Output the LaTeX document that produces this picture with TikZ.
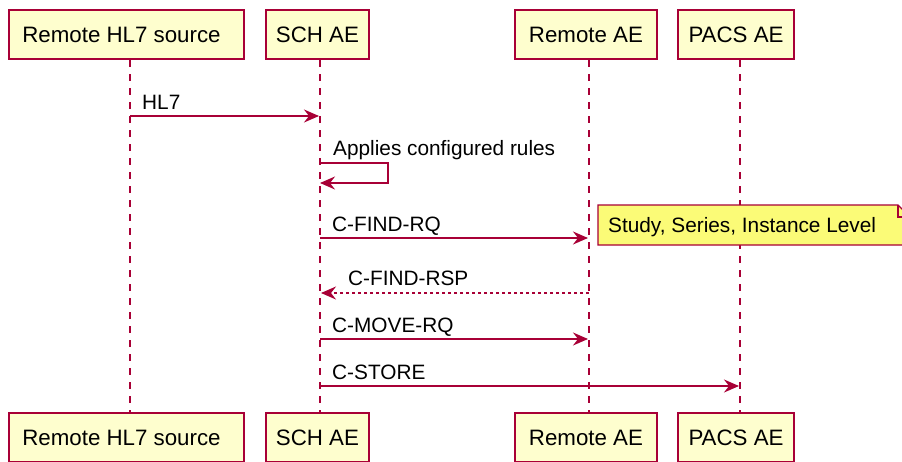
\documentclass[tikz,border=0pt]{standalone}
\usepackage{fontspec}
\setmainfont{Liberation Sans}
\usetikzlibrary{arrows.meta}
\definecolor{pborder}{RGB}{168,0,54}
\definecolor{pfill}{RGB}{254,254,206}
\definecolor{nfill}{RGB}{251,251,119}
\begin{document}
\begin{tikzpicture}[x=1pt,y=-1pt,
  font=\fontsize{20.8}{25}\selectfont,
  part/.style={draw=pborder, fill=pfill, line width=2.3pt, inner sep=0pt, minimum height=49pt, font=\fontsize{22.3}{26}\selectfont},
  life/.style={draw=pborder, line width=1.5pt, dash pattern=on 7pt off 7pt},
  msg/.style={draw=pborder, line width=1.5pt, -{Stealth[length=15pt,width=13pt,inset=5pt]}},
  rsp/.style={msg, dash pattern=on 3pt off 3pt},
  lbl/.style={anchor=base west, inner sep=0pt},
  notebox/.style={draw=pborder, fill=nfill, line width=1.3pt, line join=miter}]
\useasboundingbox (0,0) rectangle (902,461);
\clip (0,0) rectangle (902,461);
% participants top
\node[part, minimum width=235pt] (p1t) at (126.5,34.5) {\hspace*{-10pt}Remote HL7 source};
\node[part, minimum width=103pt] (p2t) at (317.5,34.5) {SCH AE};
\node[part, minimum width=142pt] (p3t) at (586,34.5) {Remote AE};
\node[part, minimum width=116pt] (p4t) at (736,34.5) {PACS AE};
% participants bottom
\node[part, minimum width=235pt] (p1b) at (126.5,437.5) {\hspace*{-10pt}Remote HL7 source};
\node[part, minimum width=103pt] (p2b) at (317.5,437.5) {SCH AE};
\node[part, minimum width=142pt] (p3b) at (586,437.5) {Remote AE};
\node[part, minimum width=116pt] (p4b) at (736,437.5) {PACS AE};
% lifelines
\draw[life] ([xshift=3.5pt]p1t.south) -- ([xshift=3.5pt]p1b.north);
\draw[life] ([xshift=2.5pt]p2t.south) -- ([xshift=2.5pt]p2b.north);
\draw[life] ([xshift=3pt]p3t.south) -- ([xshift=3pt]p3b.north);
\draw[life] ([xshift=4pt]p4t.south) -- ([xshift=4pt]p4b.north);
% message end points on lifelines
\coordinate (a1) at (130,116);  \coordinate (b1) at (319,116);
\coordinate (s1) at (320,163);  \coordinate (s2) at (320,183);
\coordinate (a3) at (320,238);  \coordinate (b3) at (588,238);
\coordinate (a4) at (589,293);  \coordinate (b4) at (321,293);
\coordinate (a5) at (320,339);  \coordinate (b5) at (588,339);
\coordinate (a6) at (320,386);  \coordinate (b6) at (739,386);
% messages
\draw[msg] (a1) -- (b1);
\node[lbl] (t1) at (142,109) {HL7};
\draw[msg] (s1) -- (388,163) -- (388,183) -- (s2);
\node[lbl] (t2) at (333,155) {Applies configured rules};
\draw[msg] (a3) -- (b3);
\node[lbl] (t3) at (332,231) {C-FIND-RQ};
\draw[rsp] (a4) -- (b4);
\node[lbl] (t4) at (348,285) {C-FIND-RSP};
\draw[msg] (a5) -- (b5);
\node[lbl] (t5) at (332,332) {C-MOVE-RQ};
\draw[msg] (a6) -- (b6);
\node[lbl] (t6) at (332,379) {C-STORE};
% note
\draw[notebox] (598,205) -- (898,205) -- (910,217) -- (910,245) -- (598,245) -- cycle;
\draw[notebox, fill=none] (898,205) -- (898,217) -- (910,217);
\node[lbl] (n1) at (608,232) {Study, Series, Instance Level};
\end{tikzpicture}
\end{document}
